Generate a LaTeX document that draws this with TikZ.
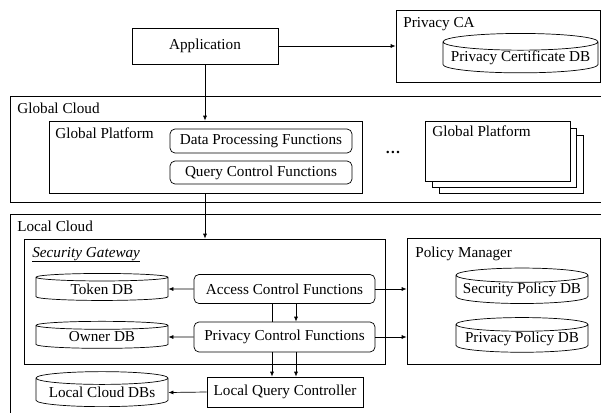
\documentclass[tikz,border=0pt]{standalone}
\usepackage{fontspec}
\setmainfont{Liberation Serif}
\usetikzlibrary{shapes.geometric,arrows.meta}
\newcommand{\dbtext}[1]{\raisebox{-3pt}{#1}}
\begin{document}
\begin{tikzpicture}[x=1pt,y=-1pt,
  every node/.style={font=\fontsize{15.2}{17}\selectfont},
  line width=0.7pt,
  box/.style={draw, rectangle, inner sep=0pt},
  fbox/.style={draw, rectangle, rounded corners=5pt, inner sep=0pt},
  db/.style={draw, cylinder, shape border rotate=90, aspect=0.12, inner sep=0pt, cylinder uses custom fill=false},
  lbl/.style={anchor=base west, inner sep=0pt},
  arr/.style={-{Latex[length=5pt,width=4pt]}},
  cont/.style={draw}
]
\useasboundingbox (0,0) rectangle (601,412);

% containers
\draw[cont] (10,96) rectangle (612,202);
\node[lbl] (gclbl) at (17,113) {Global Cloud};
\draw[cont] (10,214) rectangle (612,420);
\node[lbl] (lclbl) at (17,231) {Local Cloud};

% Application and Privacy CA
\node[box, minimum width=146pt, minimum height=36pt] (app) at (205,46) {Application};
\node[box, minimum width=204pt, minimum height=72pt] (pca) at (498,46) {};
\node[lbl] (pcalbl) at (403,28) {Privacy CA};
\node[db, minimum width=155pt, minimum height=33pt] (pcdb) at (520.5,57.5) {\dbtext{Privacy Certificate DB}};

% Global platform
\node[box, minimum width=313pt, minimum height=72pt] (gp) at (205.5,157) {};
\node[lbl] (gplbl) at (55,138) {Global Platform};
\node[fbox, minimum width=182pt, minimum height=24pt] (dpf) at (261,141) {Data Processing Functions};
\node[fbox, minimum width=182pt, minimum height=23pt] (qcf) at (261,172.5) {Query Control Functions};
\node (dots) at (393,152) {\textbf{\dots}};

% stacked global platforms
\draw[fill=white] (439,135) rectangle (583,193);
\draw[fill=white] (432,128) rectangle (576,187);
\node[box, fill=white, minimum width=145pt, minimum height=60pt] (gp2) at (497.5,151) {};
\node[lbl] (gp2lbl) at (432,136) {Global Platform};

% Security gateway
\node[box, minimum width=361pt, minimum height=125pt] (sg) at (204.5,301.5) {};
\node[lbl] (sglbl) at (32,257) {\underline{\itshape Security Gateway}};
\node[db, minimum width=132pt, minimum height=27pt] (tdb) at (102,289) {\dbtext{Token DB}};
\node[db, minimum width=132pt, minimum height=27pt] (odb) at (102,337) {\dbtext{Owner DB}};
\node[fbox, fill=white, minimum width=181pt, minimum height=29pt] (acf) at (284.5,289) {Access Control Functions};
\node[fbox, fill=white, minimum width=181pt, minimum height=30pt] (pcf) at (284.5,337) {Privacy Control Functions};

% Policy manager
\node[box, minimum width=193pt, minimum height=126pt] (pm) at (503.5,301) {};
\node[lbl] (pmlbl) at (415,257) {Policy Manager};
\node[db, minimum width=132pt, minimum height=35pt] (spdb) at (522,289.5) {\dbtext{Security Policy DB}};
\node[db, minimum width=132pt, minimum height=33pt] (ppdb) at (522,338.5) {\dbtext{Privacy Policy DB}};

% Local query controller
\node[box, minimum width=156pt, minimum height=30pt] (lqc) at (285,392) {Local Query Controller};
\node[db, minimum width=132pt, minimum height=35pt] (lcdb) at (102,392.5) {\dbtext{Local Cloud DBs}};

% connectors
\draw[arr] (app.east) -- (pca.west |- app.east);
\draw[arr] (app.south) -- (app.south |- gp.north);
\draw[arr] (gp.south -| app.south) -- (app.south |- sg.north);
\draw[arr] (acf.west) -- (tdb.east);
\draw[arr] (pcf.west) -- (odb.east);
\draw[arr] (acf.east) -- (pm.west |- acf.east);
\draw[arr] (pcf.east) -- (pm.west |- pcf.east);
\draw[arr] (acf.south -| 296,0) -- (pcf.north -| 296,0);
\draw (acf.south -| 272,0) -- (pcf.north -| 272,0);
\draw[arr] (pcf.south -| 272,0) -- (lqc.north -| 272,0);
\draw[arr] (pcf.south -| 296,0) -- (lqc.north -| 296,0);
\draw[arr] (lqc.west) -- (lcdb.east);
\end{tikzpicture}
\end{document}
